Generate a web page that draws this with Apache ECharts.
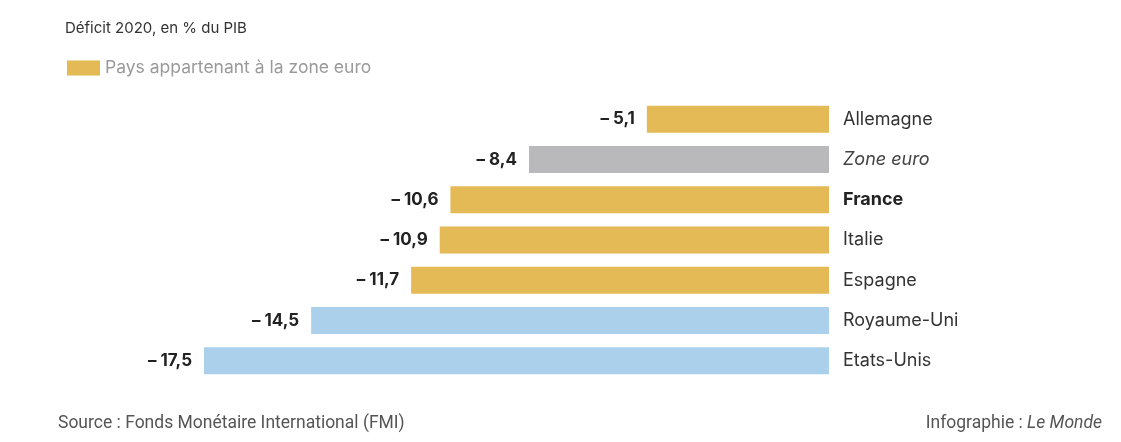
<!DOCTYPE html>
<html>
<head>
<meta charset="utf-8">
<script src="https://cdn.jsdelivr.net/npm/echarts@6/dist/echarts.min.js"></script>
<style>
  html, body { margin: 0; padding: 0; background: #fff; }
  #chart { width: 1121px; height: 442px; }
</style>
</head>
<body>
<div id="chart"></div>
<script>
// pays, du haut vers le bas
const countries = ['Allemagne', 'Zone euro', 'France', 'Italie', 'Espagne', 'Royaume-Uni', 'Etats-Unis']
const deficits = [-5.1, -8.4, -10.6, -10.9, -11.7, -14.5, -17.5]
// groupe : euro = pays de la zone euro, agg = zone euro, other = hors zone
const groups = ['euro', 'agg', 'euro', 'euro', 'euro', 'other', 'other']

const colors = {
  euro: '#E3BA55',
  agg: '#B9B9BB',
  other: '#AAD0EC',
}

const chart = echarts.init(document.getElementById('chart'))

const fmt = function (v) {
  return '\u2013 ' + Math.abs(v).toFixed(1).replace('.', ',')
}

chart.setOption({
  animation: false,
  textStyle: {fontFamily: 'Inter, "Noto Sans", sans-serif'},
  title: {
    text: 'Déficit 2020, en % du PIB',
    left: 60,
    top: 16,
    textStyle: {fontSize: 15, fontWeight: 'normal', color: '#333'},
  },
  legend: {
    left: 62,
    top: 54,
    itemWidth: 33,
    itemHeight: 15,
    itemGap: 8,
    icon: 'rect',
    textStyle: {fontSize: 17.5, color: '#9a9a9a'},
    data: ['Pays appartenant à la zone euro'],
  },
  grid: {
    left: 204,
    right: 292,
    top: 99,
    bottom: 61,
  },
  xAxis: {
    type: 'value',
    min: -17.5,
    max: 0,
    show: false,
  },
  yAxis: {
    type: 'category',
    data: countries,
    inverse: true,
    position: 'right',
    axisLine: {show: false},
    axisTick: {show: false},
    axisLabel: {
      margin: 14,
      fontSize: 18,
      color: '#333',
      align: 'left',
      formatter: function (v) {
        if (v === 'France') return '{b|' + v + '}'
        if (v === 'Zone euro') return '{i|' + v + '}'
        return v
      },
      rich: {
        b: {fontSize: 18, fontWeight: 'bold', color: '#222'},
        i: {fontSize: 18, fontStyle: 'italic', color: '#444'},
      },
    },
  },
  series: [
    {
      name: 'Pays appartenant à la zone euro',
      type: 'bar',
      barCategoryGap: '33%',
      itemStyle: {color: colors.euro},
      label: {
        show: true,
        position: 'left',
        distance: 12,
        fontSize: 17,
        fontWeight: 'bold',
        color: '#222',
        formatter: function (p) { return fmt(p.value) },
      },
      data: deficits.map(function (v, i) {
        return {value: v, itemStyle: {color: colors[groups[i]]}}
      }),
    },
  ],
  graphic: [
    {
      type: 'text',
      left: 58,
      top: 415,
      style: {
        text: 'Source : Fonds Monétaire International (FMI)',
        fontFamily: 'Roboto, sans-serif',
        fontSize: 17.5,
        fill: '#555',
      },
    },
    {
      type: 'text',
      right: 19,
      top: 415,
      style: {
        rich: {
          n: {fontSize: 17.5, fill: '#555', fontFamily: 'Roboto, sans-serif'},
          i: {fontSize: 17.5, fill: '#555', fontStyle: 'italic', fontFamily: 'Roboto, sans-serif'},
        },
        text: '{n|Infographie : }{i|Le Monde}',
      },
    },
  ],
})
</script>
</body>
</html>
